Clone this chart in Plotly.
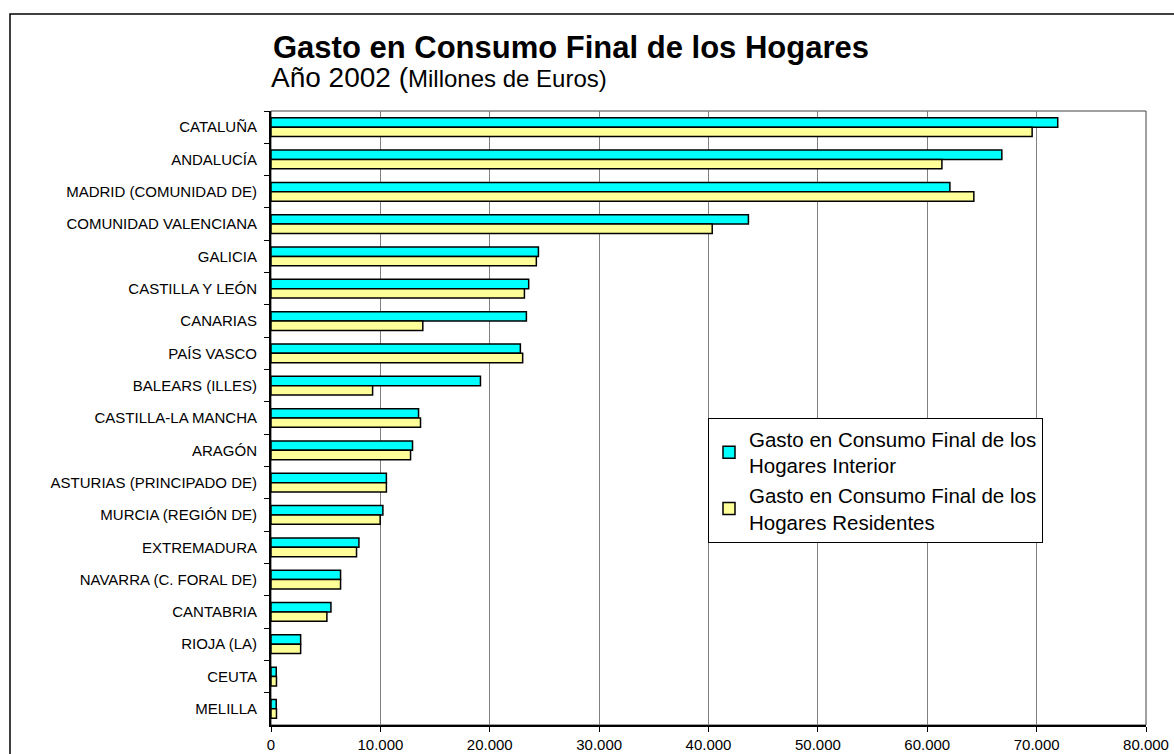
import plotly.graph_objects as go

regions = [
    "CATALUÑA", "ANDALUCÍA", "MADRID (COMUNIDAD DE)", "COMUNIDAD VALENCIANA",
    "GALICIA", "CASTILLA Y LEÓN", "CANARIAS", "PAÍS VASCO", "BALEARS (ILLES)",
    "CASTILLA-LA MANCHA", "ARAGÓN", "ASTURIAS (PRINCIPADO DE)", "MURCIA (REGIÓN DE)",
    "EXTREMADURA", "NAVARRA (C. FORAL DE)", "CANTABRIA", "RIOJA (LA)", "CEUTA", "MELILLA",
]
interior = [71930, 66820, 62070, 43650, 24450, 23560, 23350, 22800, 19150,
            13490, 12940, 10550, 10230, 8040, 6360, 5480, 2710, 480, 480]
residentes = [69590, 61340, 64260, 40340, 24260, 23170, 13880, 23010, 9290,
              13670, 12760, 10550, 9980, 7820, 6360, 5110, 2710, 500, 500]

name_interior = "Gasto en Consumo Final de los<br>Hogares Interior"
name_residentes = "Gasto en Consumo Final de los<br>Hogares Residentes"

FONT = "Arial, 'Liberation Sans', sans-serif"

fig = go.Figure()
fig.add_trace(go.Bar(
    y=regions, x=interior, orientation="h", name=name_interior,
    marker=dict(color="#00FFFF", line=dict(color="black", width=1.5)),
))
fig.add_trace(go.Bar(
    y=regions, x=residentes, orientation="h", name=name_residentes,
    marker=dict(color="#FFFF99", line=dict(color="black", width=1.5)),
))

L, R, T, B = 271, 28, 111, 29
W, H = 1174, 754
pw = W - L - R
ph = H - T - B

def px_x(x):
    return (x - L) / pw

def px_y(y):
    return (H - B - y) / ph

fig.update_layout(
    width=W, height=H,
    margin=dict(l=L, r=R, t=T, b=B, autoexpand=False),
    paper_bgcolor="white", plot_bgcolor="white",
    font=dict(family=FONT, color="black"),
    separators=",.",
    barmode="group", bargap=0.42, bargroupgap=0,
    showlegend=True,
    legend=dict(
        x=px_x(708), y=px_y(418), xanchor="left", yanchor="top",
        bgcolor="white", bordercolor="black", borderwidth=1,
        font=dict(size=20.5, family=FONT, color="black"),
        tracegroupgap=3,
    ),
    xaxis=dict(
        range=[0, 80000], dtick=10000, tick0=0, tickformat=",d",
        showgrid=True, gridcolor="#808080", gridwidth=1,
        showline=True, linecolor="black", linewidth=2,
        ticks="outside", ticklen=5, tickcolor="black",
        tickfont=dict(size=15, family=FONT, color="black"),
        zeroline=False, fixedrange=True,
    ),
    yaxis=dict(
        categoryorder="array", categoryarray=regions, autorange="reversed",
        showline=True, linecolor="black", linewidth=2,
        ticks="outside", ticklen=5, tickcolor="black", tickson="boundaries",
        tickfont=dict(size=15, family=FONT, color="black"),
        ticklabelstandoff=9,
        showgrid=False, zeroline=False, fixedrange=True,
    ),
    shapes=[
        dict(type="rect", xref="paper", yref="paper", x0=0, x1=1, y0=0, y1=1,
             line=dict(color="#404040", width=1), layer="below"),
        dict(type="rect", xref="paper", yref="paper",
             x0=px_x(10), x1=px_x(1190), y0=px_y(770), y1=px_y(14),
             line=dict(color="black", width=1.5), layer="below"),
    ],
    annotations=[
        dict(text="<b>Gasto en Consumo Final de los Hogares</b>",
             xref="paper", yref="paper", x=px_x(271), y=px_y(48),
             xanchor="left", yanchor="middle", showarrow=False,
             font=dict(size=31, family=FONT, color="black")),
        dict(text="Año 2002 (<span style='font-size:24px'>Millones de Euros)</span>",
             xref="paper", yref="paper", x=px_x(269), y=px_y(78),
             xanchor="left", yanchor="middle", showarrow=False,
             font=dict(size=28, family=FONT, color="black")),
    ],
)

fig.write_html("out.html", config={"displayModeBar": False},
               post_script="document.body.style.margin='0';document.body.style.padding='0';")
